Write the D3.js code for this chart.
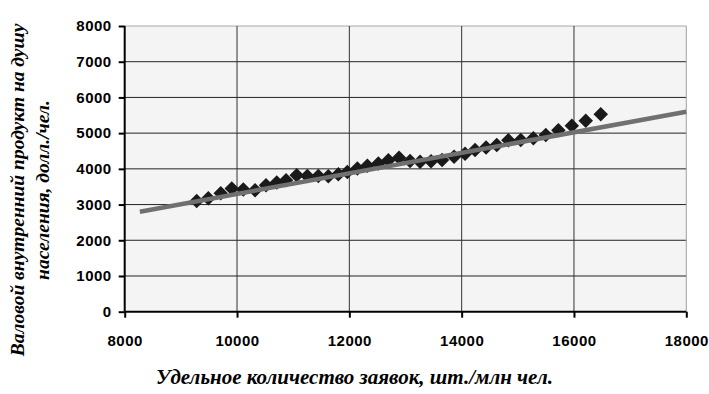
<!DOCTYPE html>
<html>
<head>
<meta charset="utf-8">
<script src="https://cdn.jsdelivr.net/npm/d3@7"></script>
<style>
  body { margin: 0; background: #fff; }
  .tick text { font-family: "Liberation Sans", Arial, sans-serif; font-weight: bold; font-size: 15px; letter-spacing: 0.5px; fill: #000; }
  .title { font-family: "Liberation Serif", "Times New Roman", serif; font-weight: bold; font-style: italic; fill: #000; }
</style>
</head>
<body>
<div id="chart"></div>
<script>
// applications per million people vs GDP per capita
var appsPerMln = [9282, 9489, 9710, 9906, 10112, 10321, 10516, 10707, 10873, 11063,
    11252, 11448, 11626, 11804, 11964, 12143, 12321, 12517, 12695, 12885,
    13081, 13259, 13455, 13651, 13865, 14061, 14239, 14435, 14625, 14832,
    15052, 15277, 15498, 15722, 15961, 16210, 16477];
var gdpPerCap = [3100, 3180, 3320, 3450, 3420, 3400, 3540, 3620, 3680, 3820,
    3800, 3800, 3790, 3850, 3910, 4010, 4090, 4150, 4240, 4310,
    4220, 4200, 4210, 4250, 4340, 4420, 4530, 4600, 4670, 4800,
    4810, 4860, 4950, 5080, 5210, 5350, 5530];

// linear trend endpoints
var trendX = [8270, 18000];
var trendY = [2800, 5600];

var xTicks = [8000, 10000, 12000, 14000, 16000, 18000];
var yTicks = [0, 1000, 2000, 3000, 4000, 5000, 6000, 7000, 8000];

var xTitle = "Удельное количество заявок, шт./млн чел.";
var yTitle = ["Валовой внутренний продукт на душу", "населения, долл./чел."];

// SVG dimensions
var svgWidth = 709;
var svgHeight = 394;
var margin = { top: 26, right: 22.7, bottom: 82.3, left: 124.7 };
var plotWidth = svgWidth - margin.left - margin.right;
var plotHeight = svgHeight - margin.top - margin.bottom;

var svg = d3.select("#chart")
    .append("svg")
    .attr("width", svgWidth)
    .attr("height", svgHeight);

var chartGroup = svg.append("g")
    .attr("transform", `translate(${margin.left}, ${margin.top})`);

var xScale = d3.scaleLinear().domain([8000, 18000]).range([0, plotWidth]);
var yScale = d3.scaleLinear().domain([0, 8000]).range([plotHeight, 0]);

// plot background
chartGroup.append("rect")
    .attr("width", plotWidth)
    .attr("height", plotHeight)
    .attr("fill", "#f4f4f4");

// gridlines
chartGroup.selectAll(".hgrid")
    .data(yTicks.slice(1))
    .enter()
    .append("line")
    .attr("x1", 0)
    .attr("x2", plotWidth)
    .attr("y1", d => yScale(d))
    .attr("y2", d => yScale(d))
    .attr("stroke", d => d === 8000 ? "#a8a8a8" : "#222")
    .attr("stroke-width", 1);

chartGroup.selectAll(".vgrid")
    .data(xTicks.slice(1))
    .enter()
    .append("line")
    .attr("x1", d => xScale(d))
    .attr("x2", d => xScale(d))
    .attr("y1", 0)
    .attr("y2", plotHeight)
    .attr("stroke", d => d === 18000 ? "#a0a0a0" : "#333")
    .attr("stroke-width", 1);

// axes
var xAxis = d3.axisBottom(xScale).tickValues(xTicks).tickFormat(d3.format("d")).tickSize(6).tickPadding(18);
var yAxis = d3.axisLeft(yScale).tickValues(yTicks).tickFormat(d3.format("d")).tickSize(6).tickPadding(7);

var gx = chartGroup.append("g")
    .attr("transform", `translate(0, ${plotHeight})`)
    .call(xAxis);
var gy = chartGroup.append("g").call(yAxis);

[gx, gy].forEach(function(g) {
    g.select(".domain").attr("stroke", "#000").attr("stroke-width", 2);
    g.selectAll(".tick line").attr("stroke", "#000").attr("stroke-width", 2);
});
gx.select(".domain").attr("d", `M0,0H${plotWidth}`);
gy.select(".domain").attr("d", `M0,0V${plotHeight}`);

// diamond markers
var diamond = {
    draw: function(ctx, size) {
        var r = Math.sqrt(size / 2);
        ctx.moveTo(0, -r);
        ctx.lineTo(r, 0);
        ctx.lineTo(0, r);
        ctx.lineTo(-r, 0);
        ctx.closePath();
    }
};

chartGroup.selectAll(".pt")
    .data(appsPerMln)
    .enter()
    .append("path")
    .attr("d", d3.symbol().type(diamond).size(105))
    .attr("transform", (d, i) => `translate(${xScale(d)}, ${yScale(gdpPerCap[i])})`)
    .attr("fill", "#1a1a1a");

// trend line
var line = d3.line()
    .x(d => xScale(d))
    .y((d, i) => yScale(trendY[i]));

chartGroup.append("path")
    .datum(trendX)
    .attr("d", line)
    .attr("fill", "none")
    .attr("stroke", "#707070")
    .attr("stroke-width", 4.5);

// titles
svg.append("text")
    .attr("class", "title")
    .attr("x", 354.5)
    .attr("y", 384)
    .attr("text-anchor", "middle")
    .style("font-size", "21px")
    .text(xTitle);

yTitle.forEach(function(t, i) {
    svg.append("text")
        .attr("class", "title")
        .attr("transform", `translate(${24 + i * 25}, 190) rotate(-90)`)
        .attr("text-anchor", "middle")
        .style("font-size", "19.5px")
        .text(t);
});
</script>
</body>
</html>
